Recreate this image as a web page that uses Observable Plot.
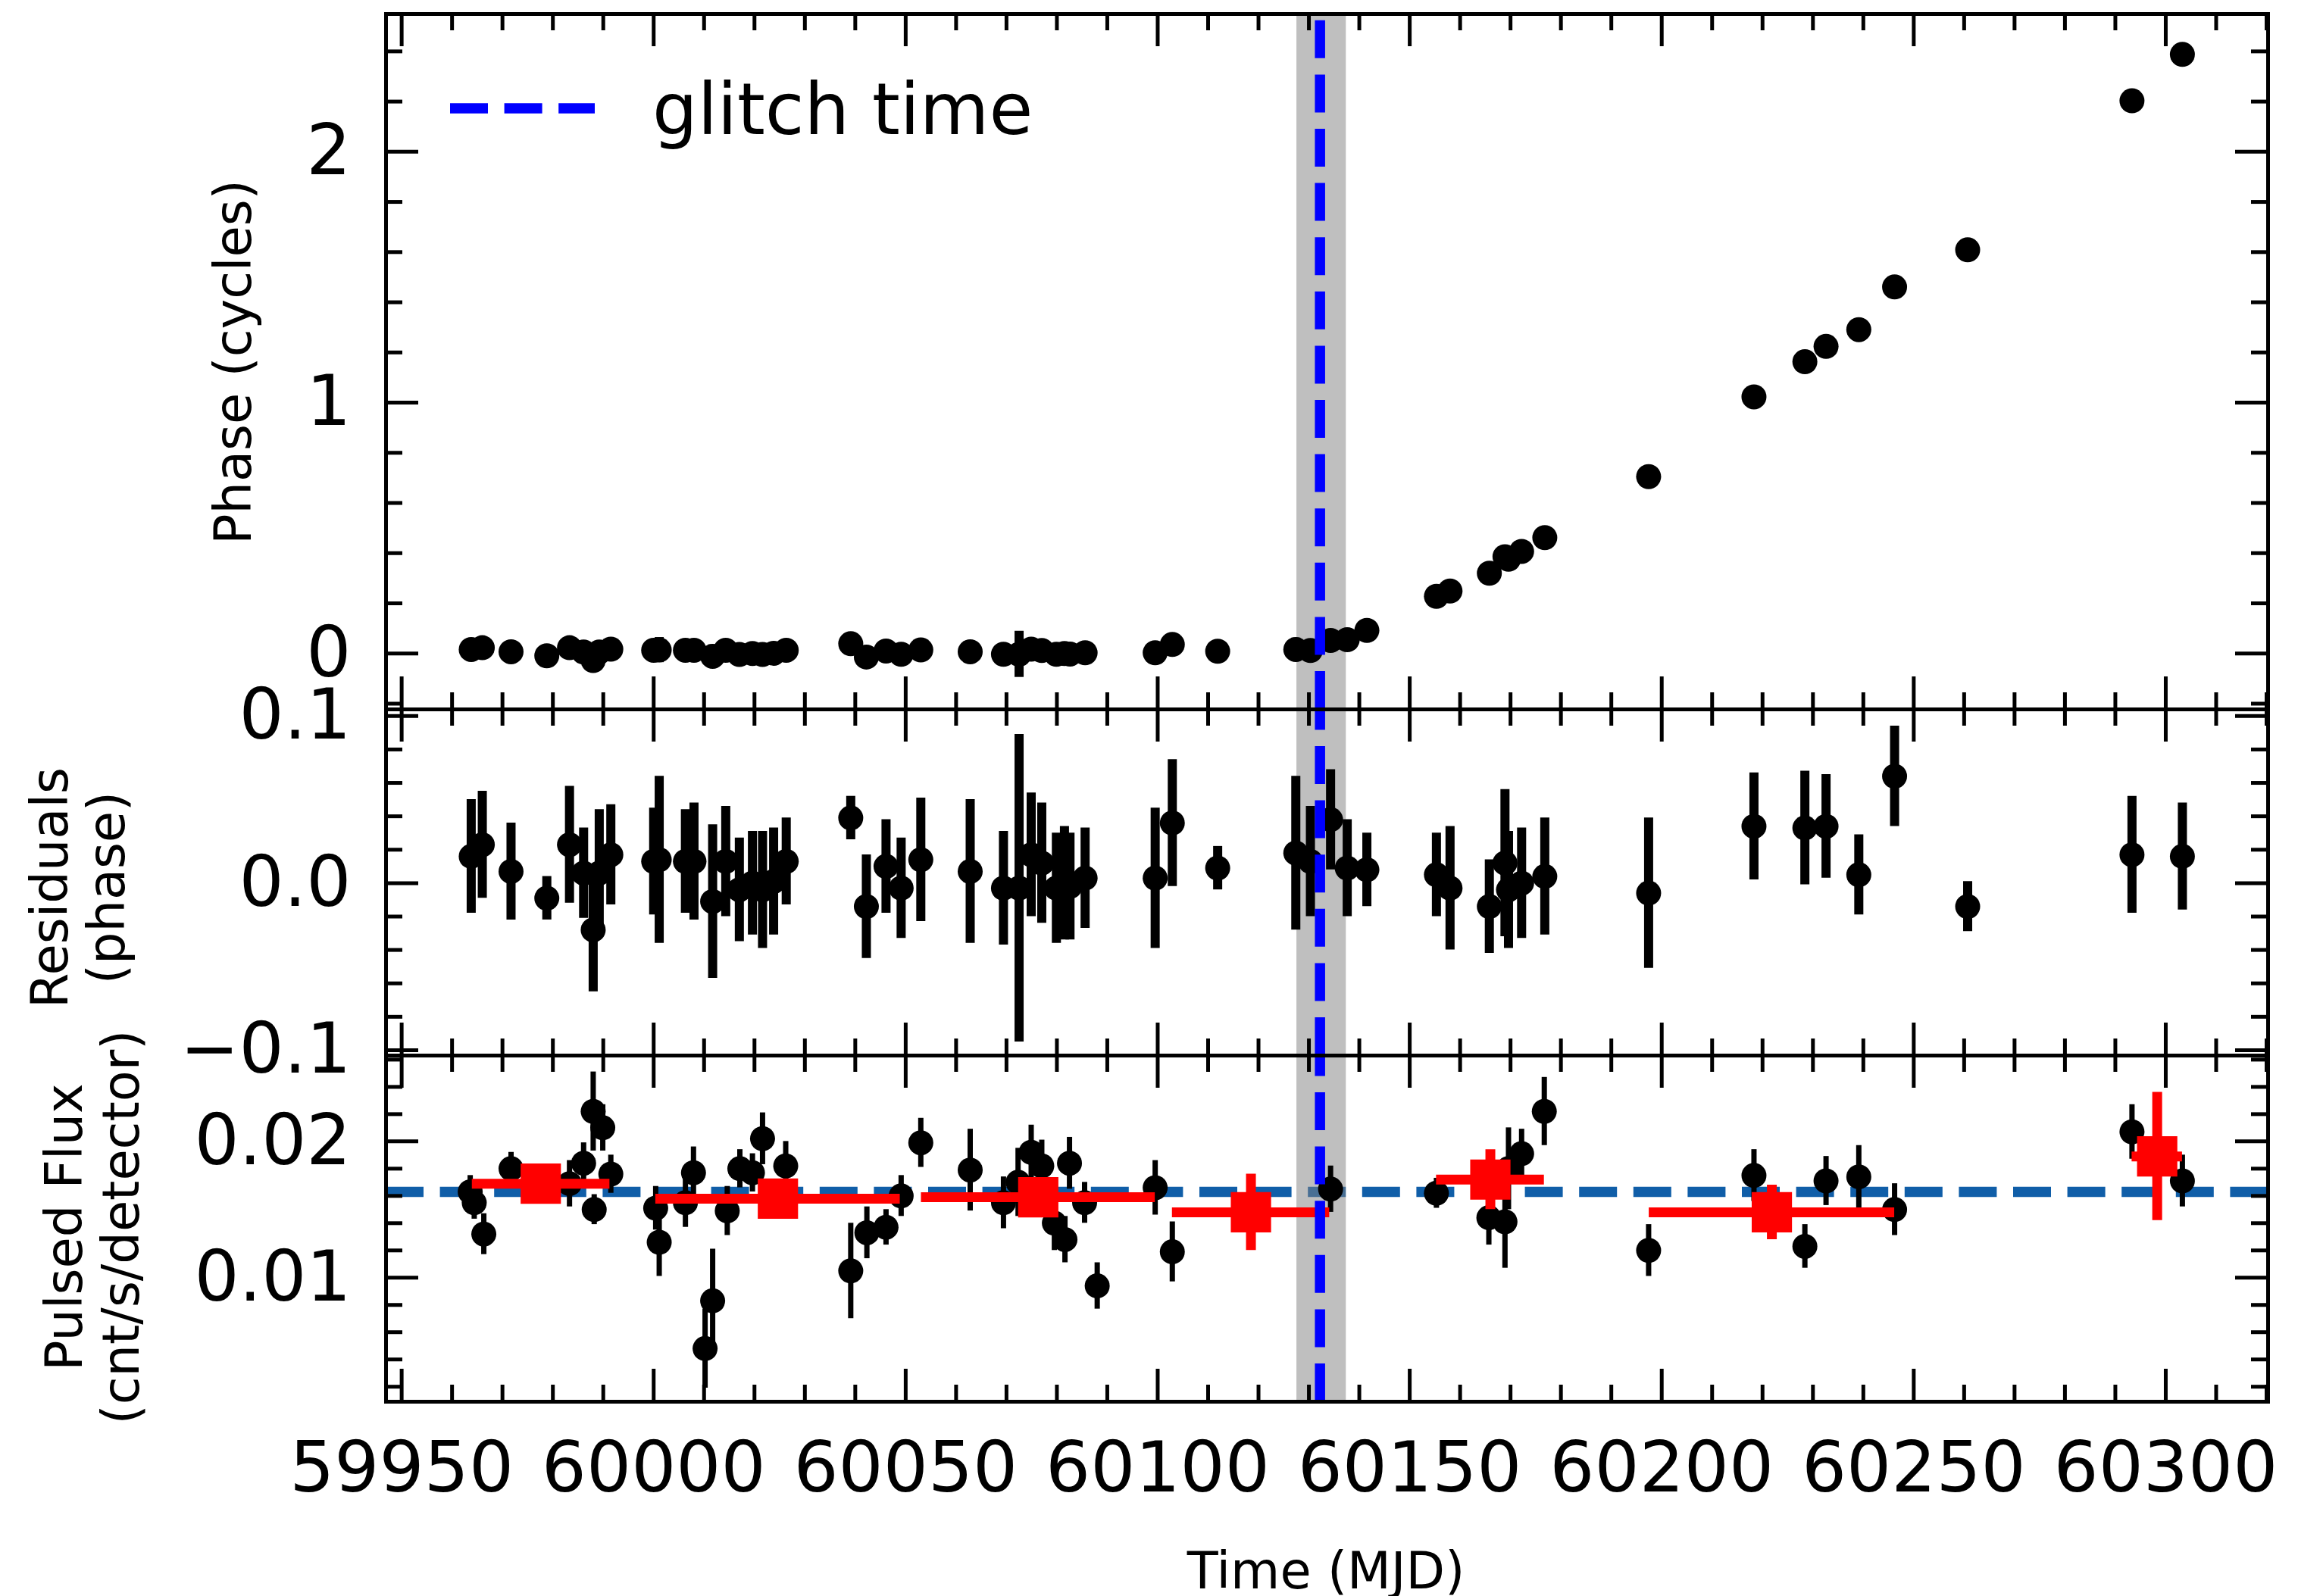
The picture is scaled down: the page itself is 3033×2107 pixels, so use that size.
<!DOCTYPE html>
<html>
<head>
<meta charset="utf-8">
<script src="https://cdn.jsdelivr.net/npm/d3@7"></script>
<script src="https://cdn.jsdelivr.net/npm/@observablehq/plot@0.6"></script>
<style>
  html, body { margin: 0; padding: 0; background: #fff; }
  #fig { position: relative; width: 3033px; height: 2107px; overflow: hidden; font-family: "DejaVu Sans"; }
</style>
</head>
<body>
<div id="fig"></div>
<script>
// ---- Timing solution: epochs (MJD), phase, residuals and their errors ----
const mjd = [59963.8, 59966.0, 59971.7, 59978.8, 59983.3, 59986.1, 59988.0, 59989.2, 59991.5, 60000.0,
  60001.1, 60006.3, 60008.0, 60011.7, 60014.3, 60017.0, 60019.6, 60021.6, 60023.8, 60026.3,
  60039.1, 60042.2, 60046.1, 60049.1, 60053.0, 60062.8, 60069.4, 60072.5, 60074.9, 60077.0,
  60079.9, 60081.5, 60082.6, 60085.6, 60099.5, 60102.9, 60111.9, 60127.4, 60130.3, 60134.3,
  60137.6, 60141.5, 60155.3, 60158.0, 60165.8, 60168.9, 60169.6, 60172.2, 60176.8, 60197.4,
  60218.3, 60228.4, 60232.6, 60239.1, 60246.2, 60260.7, 60293.3, 60303.3];
const phase = [0.016, 0.023, 0.007, -0.009, 0.023, 0.006, -0.028, 0.006, 0.017, 0.013,
  0.014, 0.013, 0.013, -0.011, 0.013, -0.004, 0.000, -0.004, 0.001, 0.013,
  0.039, -0.014, 0.010, -0.003, 0.014, 0.007, -0.003, -0.003, 0.017, 0.012,
  -0.003, 0.000, -0.002, 0.003, 0.003, 0.036, 0.009, 0.016, 0.012, 0.052,
  0.055, 0.092, 0.228, 0.249, 0.320, 0.386, 0.376, 0.407, 0.462, 0.705,
  1.023, 1.163, 1.224, 1.291, 1.461, 1.609, 2.203, 2.388];
const residual = [0.016, 0.023, 0.007, -0.009, 0.023, 0.006, -0.028, 0.006, 0.017, 0.013,
  0.014, 0.013, 0.013, -0.011, 0.013, -0.004, 0.000, -0.004, 0.001, 0.013,
  0.039, -0.014, 0.010, -0.003, 0.014, 0.007, -0.003, -0.003, 0.017, 0.012,
  -0.003, 0.000, -0.002, 0.003, 0.003, 0.036, 0.009, 0.018, 0.013, 0.038,
  0.009, 0.008, 0.005, -0.003, -0.014, 0.012, -0.004, 0.000, 0.004, -0.006,
  0.034, 0.033, 0.034, 0.005, 0.064, -0.014, 0.017, 0.016];
const residualErr = [0.034, 0.032, 0.029, 0.013, 0.035, 0.027, 0.037, 0.038, 0.030, 0.032,
  0.050, 0.031, 0.035, 0.046, 0.033, 0.031, 0.031, 0.035, 0.032, 0.026,
  0.013, 0.031, 0.028, 0.030, 0.037, 0.043, 0.034, 0.092, 0.037, 0.036,
  0.033, 0.034, 0.032, 0.030, 0.042, 0.038, 0.013, 0.046, 0.033, 0.030,
  0.029, 0.022, 0.025, 0.037, 0.028, 0.044, 0.035, 0.033, 0.035, 0.045,
  0.032, 0.034, 0.031, 0.024, 0.030, 0.015, 0.035, 0.032];

// ---- Pulsed flux per observation ----
const fluxMjd = [59963.6, 59964.4, 59966.3, 59971.7, 59983.3, 59986.1, 59988.0, 59988.2, 59989.9, 59991.5,
  60000.4, 60001.1, 60006.3, 60007.9, 60010.2, 60011.7, 60014.6, 60017.1, 60019.6, 60021.6,
  60026.2, 60039.1, 60042.3, 60046.1, 60049.1, 60053.0, 60062.8, 60069.4, 60072.3, 60074.9,
  60077.0, 60079.5, 60081.6, 60082.5, 60085.5, 60088.0, 60099.5, 60102.9, 60134.3, 60155.3,
  60165.7, 60168.9, 60169.6, 60172.2, 60176.7, 60197.4, 60218.3, 60228.4, 60232.6, 60239.1,
  60246.2, 60293.3, 60303.3];
const flux = [0.0163, 0.0155, 0.0132, 0.0180, 0.0169, 0.0184, 0.0222, 0.0150, 0.0210, 0.0176,
  0.0151, 0.0126, 0.0155, 0.0177, 0.0048, 0.0083, 0.0149, 0.0180, 0.0177, 0.0202,
  0.0182, 0.0105, 0.0133, 0.0137, 0.0160, 0.0199, 0.0179, 0.0155, 0.0170, 0.0192,
  0.0182, 0.0140, 0.0128, 0.0184, 0.0155, 0.0094, 0.0166, 0.0119, 0.0165, 0.0162,
  0.0144, 0.0141, 0.0180, 0.0191, 0.0222, 0.0120, 0.0175, 0.0123, 0.0171, 0.0174,
  0.0150, 0.0207, 0.0171];
const fluxErr = [0.0012, 0.0012, 0.0015, 0.0012, 0.0017, 0.0015, 0.0029, 0.0011, 0.0017, 0.0014,
  0.0016, 0.0025, 0.0018, 0.0019, 0.0029, 0.0038, 0.0018, 0.0014, 0.0014, 0.0019,
  0.0018, 0.0035, 0.0019, 0.0013, 0.0015, 0.0018, 0.0030, 0.0019, 0.0025, 0.0020,
  0.0019, 0.0020, 0.0017, 0.0019, 0.0015, 0.0017, 0.0020, 0.0022, 0.0017, 0.0011,
  0.0020, 0.0034, 0.0030, 0.0018, 0.0025, 0.0019, 0.0019, 0.0016, 0.0018, 0.0023,
  0.0019, 0.0020, 0.0019];

// ---- Binned pulsed flux (bin centre, bin edges, mean, error) ----
const binMjd = [59977.6, 60024.65, 60076.3, 60118.5, 60166.0, 60221.85, 60298.3];
const binLo = [59964.0, 60000.4, 60053.1, 60102.9, 60155.3, 60197.5, 60293.3];
const binHi = [59991.3, 60048.9, 60099.5, 60134.1, 60176.7, 60246.2, 60303.3];
const binFlux = [0.0169, 0.0158, 0.0159, 0.0148, 0.0172, 0.0148, 0.0189];
const binErr = [0.0012, 0.0010, 0.0012, 0.0028, 0.0022, 0.0020, 0.0047];

const meanFlux = 0.0163;
const glitchMjd = 60132.2;
const glitchWindow = [60127.6, 60137.4];

// ---- Axis ticks ----
const xTicks = [59950, 60000, 60050, 60100, 60150, 60200, 60250, 60300];
const phaseTicks = [0, 1, 2];
const residualTicks = [-0.1, 0.0, 0.1];
const fluxTicks = [0.01, 0.02];

// ---- Axis limits ----
const xDomain = [59946.9, 60320.3];
const phaseDomain = [-0.2227, 2.549];
const residualDomain = [-0.1032, 0.104];
const fluxDomain = [0.0009, 0.0263];

// ---- Layout ----
const W = 3033, ML = 509, MR = 40;
const FONT = "DejaVu Sans";
const TICK_FS = 93;
const LABEL_FS = 67;
const LINE_W = 5, MAJOR_LEN = 43, MINOR_LEN = 22;
const GLITCH_DASH = "50,21.6";

const timing = mjd.map((t, i) => ({t, phase: phase[i], res: residual[i], err: residualErr[i]}));
const fluxRows = fluxMjd.map((t, i) => ({t, f: flux[i], e: fluxErr[i]}));
const bins = binMjd.map((t, i) => ({t, lo: binLo[i], hi: binHi[i], f: binFlux[i], e: binErr[i]}));

const inDomain = (v, [a, b]) => v >= a && v <= b;
const xMinor = d3.range(59950, 60330, 10).filter(v => v % 50 !== 0 && inDomain(v, xDomain));
const phaseMinor = d3.range(-1, 13).filter(i => i % 5 !== 0).map(i => +(i * 0.2).toFixed(2));
const residualMinor = d3.range(-4, 5).filter(i => i !== 0).map(i => +(i * 0.02).toFixed(2));
const fluxMinor = d3.range(1, 14).filter(i => i % 5 !== 0).map(i => +(i * 0.002).toFixed(3));

const fig = document.getElementById("fig");

function panel({top, height, marginTop, marginBottom, yDomain, yTicks, yMinor, yFormat, marks, showX}) {
  const innerH = height - marginTop - marginBottom;
  const innerW = W - ML - MR;
  const ts = {stroke: "black", strokeWidth: LINE_W};
  const id = d => d;
  const svg = Plot.plot({
    width: W, height, marginTop, marginBottom, marginLeft: ML, marginRight: MR,
    style: {fontFamily: FONT, background: "transparent", overflow: "visible", color: "black"},
    x: {domain: xDomain, axis: showX ? undefined : null},
    y: {domain: yDomain},
    marks: [
      ...marks,
      // inward ticks on all four sides
      Plot.tickX(xTicks, {x: id, insetTop: innerH - MAJOR_LEN, ...ts}),
      Plot.tickX(xTicks, {x: id, insetBottom: innerH - MAJOR_LEN, ...ts}),
      Plot.tickX(xMinor, {x: id, insetTop: innerH - MINOR_LEN, ...ts}),
      Plot.tickX(xMinor, {x: id, insetBottom: innerH - MINOR_LEN, ...ts}),
      Plot.tickY(yTicks, {y: id, insetRight: innerW - MAJOR_LEN, ...ts}),
      Plot.tickY(yTicks, {y: id, insetLeft: innerW - MAJOR_LEN, ...ts}),
      Plot.tickY(yMinor, {y: id, insetRight: innerW - MINOR_LEN, ...ts}),
      Plot.tickY(yMinor, {y: id, insetLeft: innerW - MINOR_LEN, ...ts}),
      Plot.frame({stroke: "black", strokeWidth: LINE_W}),
      Plot.axisY(yTicks, {tickSize: 0, tickPadding: 46, fontSize: TICK_FS, tickFormat: yFormat, label: null, fill: "black"}),
      showX ? Plot.axisX(xTicks, {tickSize: 0, tickPadding: 52, fontSize: TICK_FS, tickFormat: d => String(d), label: null, fill: "black"}) : null
    ]
  });
  svg.style.position = "absolute";
  svg.style.left = "0px";
  svg.style.top = top + "px";
  svg.style.maxWidth = "none";
  fig.append(svg);
}

const band = Plot.rect([glitchWindow], {x1: d => d[0], x2: d => d[1], fill: "#808080", fillOpacity: 0.5});
const glitchLine = yDomain => Plot.ruleX([glitchMjd], {x: d => d, y1: yDomain[0], y2: yDomain[1],
  stroke: "#0000ff", strokeWidth: 13.5, strokeDasharray: GLITCH_DASH});

// Phase (cycles)
panel({
  top: 0, height: 936, marginTop: 18, marginBottom: 0,
  yDomain: phaseDomain, yTicks: phaseTicks, yMinor: phaseMinor, yFormat: d3.format("d"),
  marks: [
    band,
    Plot.ruleX(timing, {x: "t", y1: d => d.phase - d.err, y2: d => d.phase + d.err, stroke: "black", strokeWidth: 12}),
    Plot.dot(timing, {x: "t", y: "phase", r: 16.5, fill: "black"}),
    glitchLine(phaseDomain)
  ]
});

// Residuals (phase)
panel({
  top: 936, height: 457, marginTop: 0, marginBottom: 0,
  yDomain: residualDomain, yTicks: residualTicks, yMinor: residualMinor, yFormat: d3.format(".1f"),
  marks: [
    band,
    Plot.ruleX(timing, {x: "t", y1: d => d.res - d.err, y2: d => d.res + d.err, stroke: "black", strokeWidth: 12}),
    Plot.dot(timing, {x: "t", y: "res", r: 16.5, fill: "black"}),
    glitchLine(residualDomain)
  ]
});

// Pulsed flux
panel({
  top: 1393, height: 714, marginTop: 0, marginBottom: 257,
  yDomain: fluxDomain, yTicks: fluxTicks, yMinor: fluxMinor, yFormat: d3.format(".2f"), showX: true,
  marks: [
    Plot.ruleY([meanFlux], {y: d => d, stroke: "#105ea8", strokeWidth: 13.5, strokeDasharray: GLITCH_DASH}),
    band,
    Plot.ruleX(fluxRows, {x: "t", y1: d => d.f - d.e, y2: d => d.f + d.e, stroke: "black", strokeWidth: 7}),
    Plot.dot(fluxRows, {x: "t", y: "f", r: 16.5, fill: "black"}),
    Plot.ruleY(bins, {y: "f", x1: "lo", x2: "hi", stroke: "#ff0000", strokeWidth: 13}),
    Plot.ruleX(bins, {x: "t", y1: d => d.f - d.e, y2: d => d.f + d.e, stroke: "#ff0000", strokeWidth: 13}),
    Plot.dot(bins, {x: "t", y: "f", symbol: "square", r: 30, fill: "#ff0000"}),
    glitchLine(fluxDomain)
  ]
});

// Legend and axis titles
const over = d3.select(fig).append("svg")
  .attr("width", W).attr("height", 2107)
  .style("position", "absolute").style("left", "0px").style("top", "0px")
  .attr("font-family", FONT).attr("fill", "black");

over.append("line")
  .attr("x1", 594).attr("x2", 785).attr("y1", 143).attr("y2", 143)
  .attr("stroke", "#0000ff").attr("stroke-width", 13.5).attr("stroke-dasharray", GLITCH_DASH);
over.append("text").attr("x", 861).attr("y", 177).attr("font-size", 94).text("glitch time");

const yTitle = (text, x, y) => over.append("text")
  .attr("transform", `translate(${x},${y}) rotate(-90)`)
  .attr("text-anchor", "middle").attr("font-size", LABEL_FS).text(text);
yTitle("Phase (cycles)", 331, 478);
yTitle("Residuals", 89, 1172);
yTitle("(phase)", 164, 1172);
yTitle("Pulsed Flux", 108, 1620);
yTitle("(cnt/s/detector)", 183, 1620);

over.append("text").attr("x", 1750).attr("y", 2097).attr("text-anchor", "middle")
  .attr("font-size", LABEL_FS).text("Time (MJD)");
</script>
</body>
</html>
